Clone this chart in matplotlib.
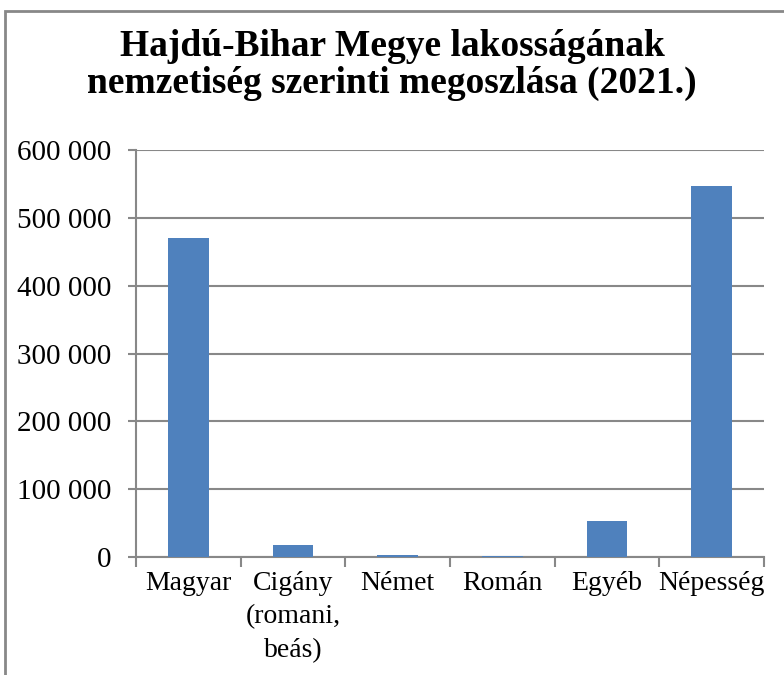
import matplotlib
matplotlib.use("Agg")
import matplotlib.pyplot as plt
from matplotlib.patches import Rectangle
from matplotlib.ticker import FuncFormatter, MultipleLocator

categories = ["Magyar", "Cigány\n(romani,\nbeás)", "Német", "Román", "Egyéb", "Népesség"]
values = [470500, 18000, 2500, 2000, 53000, 546500]

TITLE = "Hajdú-Bihar Megye lakosságának\nnemzetiség szerinti megoszlása (2021.)"
BAR = "#4F81BD"
GRID = "#888888"

plt.rcParams["font.family"] = ["Liberation Serif", "DejaVu Serif"]

W, H = 784, 675
fig = plt.figure(figsize=(W / 100, H / 100), dpi=100)
ax = fig.add_axes([136 / W, 1 - 557 / H, (764 - 136) / W, (557 - 150) / H])

xs = range(len(categories))
ax.bar(xs, values, width=0.39, color=BAR, zorder=3)

ax.set_xlim(-0.5, len(categories) - 0.5)
ax.set_ylim(0, 600000)
ax.yaxis.set_major_locator(MultipleLocator(100000))
ax.yaxis.set_major_formatter(FuncFormatter(lambda v, p: f"{int(v):,}".replace(",", " ")))
ax.grid(axis="y", color=GRID, lw=1.5, zorder=0)

ax.set_xticks([i - 0.5 for i in range(len(categories) + 1)], minor=False)
ax.set_xticklabels([])
ax.set_xticks(list(xs), minor=True)
ax.set_xticklabels(categories, minor=True, fontsize=20, linespacing=1.45)
ax.tick_params(axis="x", which="major", direction="out", length=7, color=GRID, width=1.5)
ax.tick_params(axis="x", which="minor", length=0, pad=10)
ax.tick_params(axis="y", direction="out", length=6, color=GRID, width=1.5, labelsize=21, pad=12)

for s in ["top", "right"]:
    ax.spines[s].set_visible(False)
for s in ["left", "bottom"]:
    ax.spines[s].set_color(GRID)
    ax.spines[s].set_linewidth(1.5)

fig.text(0.5, 1 - 65 / H, TITLE, ha="center", va="center", fontsize=27,
         fontweight="bold", linespacing=1.1)

fig.patches.append(Rectangle((5 / W, -0.2), 1.2, 1.2 - 11 / H, transform=fig.transFigure,
                             fill=False, edgecolor=GRID, lw=2, clip_on=False))

fig.savefig("out.png", dpi=100)
